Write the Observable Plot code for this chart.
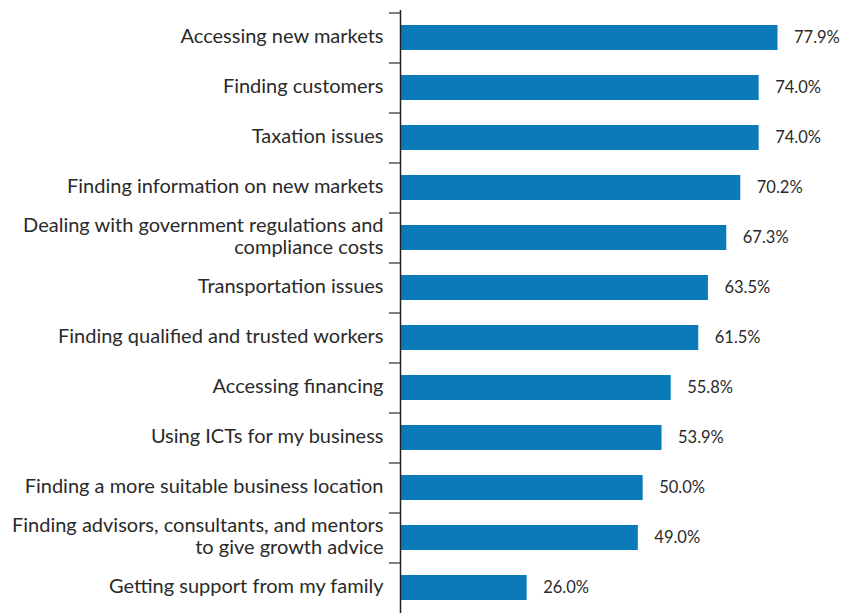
<!DOCTYPE html>
<html>
<head>
<meta charset="utf-8">
<script src="https://cdn.jsdelivr.net/npm/d3@7"></script>
<script src="https://cdn.jsdelivr.net/npm/@observablehq/plot@0.6"></script>
<style>
  html, body { margin: 0; padding: 0; background: #fff; }
  #chart svg { display: block; }
</style>
</head>
<body>
<div id="chart"></div>
<script>
const categories = [
  "Accessing new markets",
  "Finding customers",
  "Taxation issues",
  "Finding information on new markets",
  "Dealing with government regulations and\ncompliance costs",
  "Transportation issues",
  "Finding qualified and trusted workers",
  "Accessing financing",
  "Using ICTs for my business",
  "Finding a more suitable business location",
  "Finding advisors, consultants, and mentors\nto give growth advice",
  "Getting support from my family"
];
const values = [77.9, 74.0, 74.0, 70.2, 67.3, 63.5, 61.5, 55.8, 53.9, 50.0, 49.0, 26.0];
const data = categories.map((c, i) => ({category: c, value: values[i]}));

const barColor = "#0a7bb8";
const textColor = "#2a2a2a";
const font = "Lato, 'Open Sans', sans-serif";

const chart = Plot.plot({
  width: 861,
  height: 613,
  marginLeft: 401,
  marginRight: 25,
  marginTop: 12,
  marginBottom: 1,
  style: {fontFamily: font, color: textColor, background: "#fff"},
  x: {domain: [0, 90], axis: null},
  y: {domain: categories, paddingInner: 0.5, paddingOuter: 0.25, label: null},
  marks: [
    Plot.barX(data, {y: "category", x: "value", fill: barColor}),
    Plot.text(data, {
      y: "category", x: "value", text: d => d.value.toFixed(1) + "%",
      textAnchor: "start", dx: 16, fontSize: 16.5, fill: textColor
    }),
    Plot.axisY({
      tickSize: 0, tickPadding: 18, fontSize: 20, lineHeight: 1.1, dy: -2,
      fill: textColor, anchor: "left"
    }),
    Plot.axisY({
      tickSize: 12, text: null, dy: -25, stroke: "#555", strokeWidth: 1.5, anchor: "left"
    }),
    Plot.ruleX([0], {stroke: "#222", strokeWidth: 1.5, insetTop: -2, insetBottom: -1, dx: -1})
  ]
});
document.getElementById("chart").appendChild(chart);
</script>
</body>
</html>
